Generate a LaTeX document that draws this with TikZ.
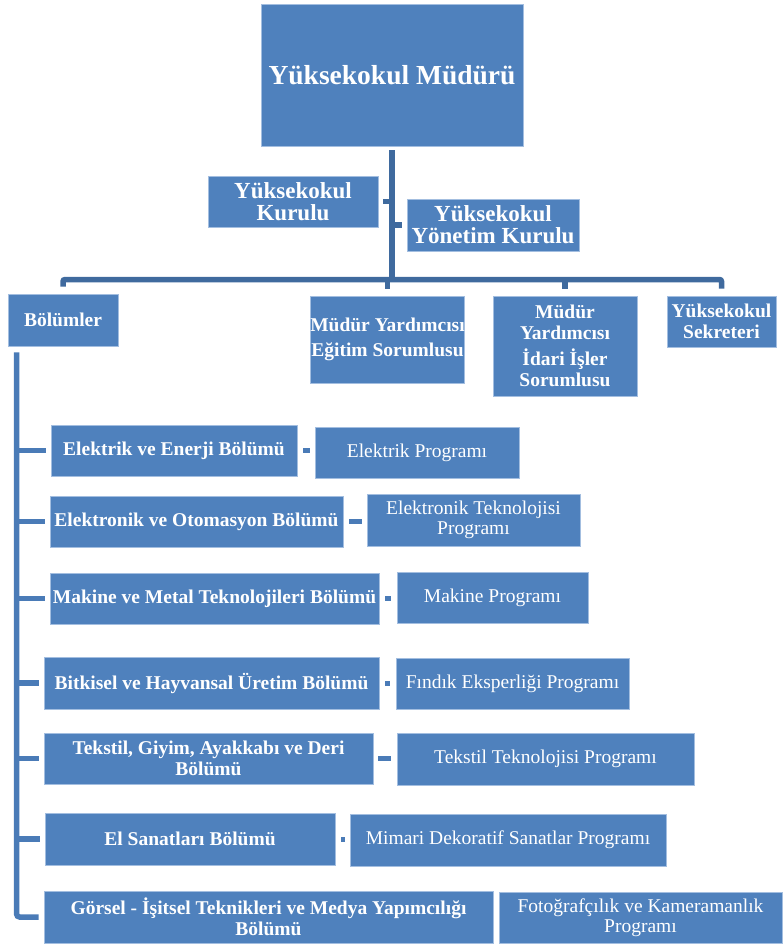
\documentclass[tikz,border=0pt]{standalone}
\usepackage{fontspec}
\setmainfont{Liberation Serif}
\definecolor{boxblue}{HTML}{4F81BD}
\definecolor{boxedge}{HTML}{A3BEE0}
\definecolor{linedark}{HTML}{3F6A9E}
\definecolor{linemid}{HTML}{4A7BB7}
\begin{document}
\begin{tikzpicture}[x=1pt,y=-1pt,
  box/.style={rectangle, fill=boxblue, draw=boxedge, line width=0.8pt, text=white,
    align=center, inner sep=0pt, font=\fontsize{19.5}{20.5}\selectfont\bfseries},
  prog/.style={box, font=\fontsize{19.5}{20.5}\selectfont},
  bigbox/.style={box, font=\fontsize{23}{22}\selectfont\bfseries},
  tconn/.style={draw=linedark, line width=5.5pt},
  lconn/.style={draw=linemid, line width=5.5pt},
  sconn/.style={draw=linemid, line width=5pt}
]
\useasboundingbox (0,0) rectangle (782,945);

% top level
\node[box, minimum width=262pt, minimum height=142pt, font=\fontsize{27.5}{28}\selectfont\bfseries] (top) at (392,75) {Yüksekokul Müdürü};
\node[bigbox, minimum width=170pt, minimum height=51pt] (kur) at (293,201.5) {Yüksekokul\\Kurulu};
\node[bigbox, minimum width=172pt, minimum height=52pt] (yon) at (493,225) {Yüksekokul\\Yönetim Kurulu};

% second level
\node[box, minimum width=110pt, minimum height=52pt] (bol) at (63,320) {Bölümler};
\node[box, minimum width=151pt, minimum height=87pt] (egt) at (387.5,339.5) {Müdür Yardımcısı\\[5pt]Eğitim Sorumlusu};
\node[box, minimum width=144pt, minimum height=100pt] (ida) at (565,346) {Müdür\\Yardımcısı\\[6pt]İdari İşler\\Sorumlusu};
\node[box, minimum width=109pt, minimum height=51pt] (sek) at (721.5,321.5) {Yüksekokul\\Sekreteri};

% departments
\node[box, minimum width=246pt, minimum height=51pt] (d1) at (174,450.5) {Elektrik ve Enerji Bölümü};
\node[box, minimum width=293pt, minimum height=51pt] (d2) at (196.5,521.5) {Elektronik ve Otomasyon Bölümü};
\node[box, minimum width=329pt, minimum height=51pt] (d3) at (214.5,598.5) {Makine ve Metal Teknolojileri Bölümü};
\node[box, minimum width=335pt, minimum height=52pt] (d4) at (211.5,683) {Bitkisel ve Hayvansal Üretim Bölümü};
\node[box, minimum width=329pt, minimum height=51pt] (d5) at (208.5,758.5) {Tekstil, Giyim, Ayakkabı ve Deri\\Bölümü};
\node[box, minimum width=290pt, minimum height=52pt] (d6) at (190,839) {El Sanatları Bölümü};
\node[box, minimum width=449pt, minimum height=52pt] (d7) at (268.5,917) {Görsel - İşitsel Teknikleri ve Medya Yapımcılığı\\Bölümü};

% programs
\node[prog, minimum width=204pt, minimum height=51pt] (p1) at (417,452.5) {Elektrik Programı};
\node[prog, minimum width=213pt, minimum height=52pt] (p2) at (473.5,520) {Elektronik Teknolojisi\\Programı};
\node[prog, minimum width=191pt, minimum height=51pt] (p3) at (492.5,597.5) {Makine Programı};
\node[prog, minimum width=233pt, minimum height=51pt] (p4) at (512.5,683.5) {Fındık Eksperliği Programı};
\node[prog, minimum width=297pt, minimum height=52pt] (p5) at (545.5,759) {Tekstil Teknolojisi Programı};
\node[prog, minimum width=316pt, minimum height=52pt] (p6) at (508,840) {Mimari Dekoratif Sanatlar Programı};
\node[prog, minimum width=283pt, minimum height=51pt] (p7) at (640.5,917.5) {Fotoğrafçılık ve Kameramanlık\\Programı};

% top connectors
\coordinate (bus) at (392,279.5);
\draw[tconn, rounded corners=2pt] ([yshift=7pt]bol.north) |- (bus) -| ([yshift=7pt]sek.north);
\draw[tconn] ([yshift=7pt]egt.north) -- (egt.north |- bus);
\draw[tconn] ([yshift=7pt]ida.north) -- (ida.north |- bus);
\draw[tconn] ([yshift=-4pt]top.south) -- (top.south |- bus);
\draw[tconn] ([xshift=5pt]kur.east) -- (kur.east -| top.south);
\draw[tconn] ([xshift=-5pt]yon.west) -- (yon.west -| top.south);

% left spine
\coordinate (vtop) at ([xshift=9pt,yshift=-6pt]bol.south west);
\draw[lconn, rounded corners=3pt] (vtop) |- ([xshift=-5pt]d7.west);
\foreach \d in {d1,d2,d3,d4,d5,d6}{
  \draw[lconn] ([xshift=-5pt]\d.west) -- (\d.west -| vtop);
}

% department to program
\draw[sconn] ([xshift=6pt]d1.east) -- ([xshift=-5pt]d1.east -| p1.west);
\draw[sconn] ([xshift=6pt]d2.east) -- ([xshift=-5pt]d2.east -| p2.west);
\draw[sconn] ([xshift=6pt]d3.east) -- ([xshift=-6pt]d3.east -| p3.west);
\draw[sconn] ([xshift=6pt]d4.east) -- ([xshift=-6pt]d4.east -| p4.west);
\draw[sconn] ([xshift=5pt]d5.east) -- ([xshift=-6pt]d5.east -| p5.west);
\draw[sconn] ([xshift=6pt]d6.east) -- ([xshift=-5pt]d6.east -| p6.west);
\end{tikzpicture}
\end{document}
